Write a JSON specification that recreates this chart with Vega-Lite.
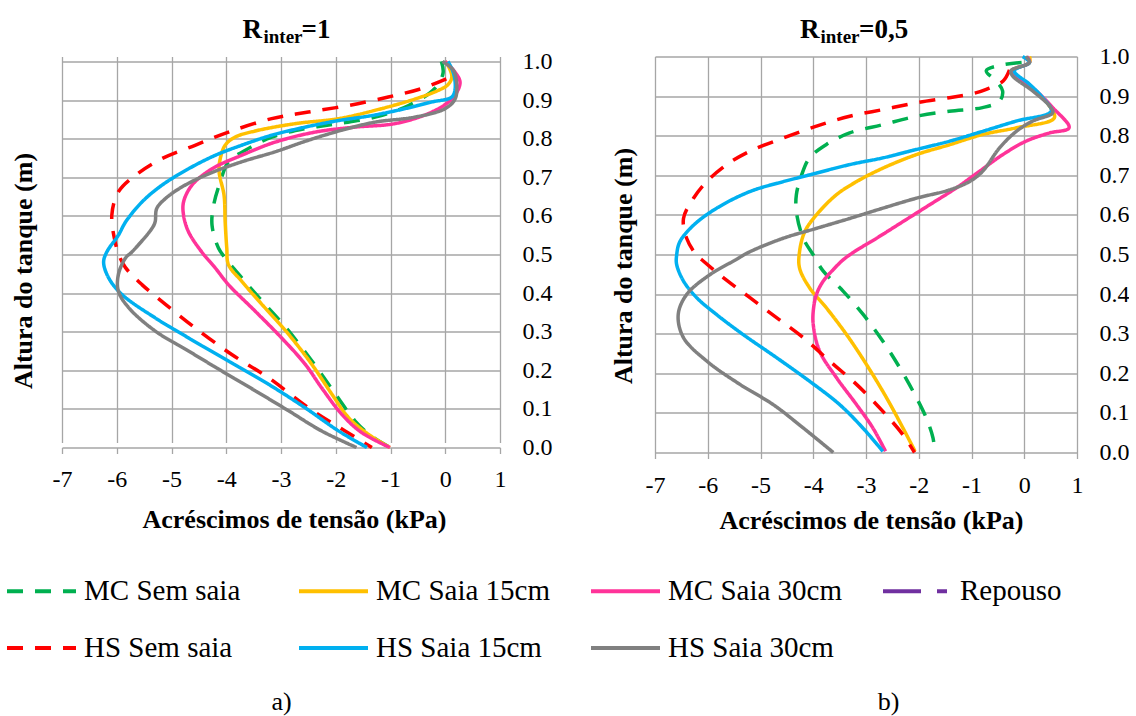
{
  "$schema": "https://vega.github.io/schema/vega-lite/v6.json",
  "background": "white",
  "padding": {"left": 5, "top": 15.5, "right": 0, "bottom": 0},
  "spacing": 58,
  "config": {
    "view": {"stroke": null},
    "font": "Liberation Serif",
    "axis": {"labelFont": "Liberation Serif", "titleFont": "Liberation Serif", "labelColor": "#000000", "titleColor": "#000000"}
  },
  "resolve": {"scale": {"color": "shared", "strokeDash": "shared"}, "legend": {"color": "shared", "strokeDash": "shared"}},
  "datasets": {
    "a": [
      {"s":"MC Sem saia","i":0,"x":-0.07,"h":1.0},{"s":"MC Sem saia","i":1,"x":-0.04,"h":0.97},{"s":"MC Sem saia","i":2,"x":-0.19,"h":0.93},{"s":"MC Sem saia","i":3,"x":-0.67,"h":0.886},{"s":"MC Sem saia","i":4,"x":-1.28,"h":0.856},{"s":"MC Sem saia","i":5,"x":-1.95,"h":0.839},{"s":"MC Sem saia","i":6,"x":-2.56,"h":0.826},{"s":"MC Sem saia","i":7,"x":-3.17,"h":0.804},{"s":"MC Sem saia","i":8,"x":-3.65,"h":0.77},{"s":"MC Sem saia","i":9,"x":-3.96,"h":0.74},{"s":"MC Sem saia","i":10,"x":-4.11,"h":0.688},{"s":"MC Sem saia","i":11,"x":-4.23,"h":0.628},{"s":"MC Sem saia","i":12,"x":-4.26,"h":0.576},{"s":"MC Sem saia","i":13,"x":-4.14,"h":0.516},{"s":"MC Sem saia","i":14,"x":-4.02,"h":0.491},{"s":"MC Sem saia","i":15,"x":-3.72,"h":0.44},{"s":"MC Sem saia","i":16,"x":-3.35,"h":0.38},{"s":"MC Sem saia","i":17,"x":-2.99,"h":0.324},{"s":"MC Sem saia","i":18,"x":-2.62,"h":0.259},{"s":"MC Sem saia","i":19,"x":-2.26,"h":0.19},{"s":"MC Sem saia","i":20,"x":-1.92,"h":0.121},{"s":"MC Sem saia","i":21,"x":-1.65,"h":0.069},{"s":"MC Sem saia","i":22,"x":-1.38,"h":0.033},{"s":"MC Sem saia","i":23,"x":-1.01,"h":0.0},
      {"s":"MC Saia 15cm","i":0,"x":0.0,"h":1.0},{"s":"MC Saia 15cm","i":1,"x":0.05,"h":0.99},{"s":"MC Saia 15cm","i":2,"x":0.12,"h":0.96},{"s":"MC Saia 15cm","i":3,"x":0.05,"h":0.94},{"s":"MC Saia 15cm","i":4,"x":-0.13,"h":0.925},{"s":"MC Saia 15cm","i":5,"x":-0.55,"h":0.903},{"s":"MC Saia 15cm","i":6,"x":-1.16,"h":0.878},{"s":"MC Saia 15cm","i":7,"x":-1.95,"h":0.852},{"s":"MC Saia 15cm","i":8,"x":-2.74,"h":0.839},{"s":"MC Saia 15cm","i":9,"x":-3.47,"h":0.82},{"s":"MC Saia 15cm","i":10,"x":-3.84,"h":0.804},{"s":"MC Saia 15cm","i":11,"x":-4.02,"h":0.783},{"s":"MC Saia 15cm","i":12,"x":-4.11,"h":0.748},{"s":"MC Saia 15cm","i":13,"x":-4.13,"h":0.714},{"s":"MC Saia 15cm","i":14,"x":-4.04,"h":0.653},{"s":"MC Saia 15cm","i":15,"x":-4.02,"h":0.584},{"s":"MC Saia 15cm","i":16,"x":-3.99,"h":0.516},{"s":"MC Saia 15cm","i":17,"x":-3.96,"h":0.474},{"s":"MC Saia 15cm","i":18,"x":-3.72,"h":0.431},{"s":"MC Saia 15cm","i":19,"x":-3.35,"h":0.371},{"s":"MC Saia 15cm","i":20,"x":-2.86,"h":0.293},{"s":"MC Saia 15cm","i":21,"x":-2.44,"h":0.216},{"s":"MC Saia 15cm","i":22,"x":-2.07,"h":0.138},{"s":"MC Saia 15cm","i":23,"x":-1.77,"h":0.078},{"s":"MC Saia 15cm","i":24,"x":-1.4,"h":0.034},{"s":"MC Saia 15cm","i":25,"x":-1.01,"h":0.0},
      {"s":"MC Saia 30cm","i":0,"x":0.0,"h":1.0},{"s":"MC Saia 30cm","i":1,"x":0.18,"h":0.972},{"s":"MC Saia 30cm","i":2,"x":0.27,"h":0.947},{"s":"MC Saia 30cm","i":3,"x":0.21,"h":0.92},{"s":"MC Saia 30cm","i":4,"x":0.06,"h":0.895},{"s":"MC Saia 30cm","i":5,"x":-0.31,"h":0.865},{"s":"MC Saia 30cm","i":6,"x":-0.92,"h":0.839},{"s":"MC Saia 30cm","i":7,"x":-1.65,"h":0.83},{"s":"MC Saia 30cm","i":8,"x":-2.38,"h":0.817},{"s":"MC Saia 30cm","i":9,"x":-3.11,"h":0.791},{"s":"MC Saia 30cm","i":10,"x":-3.72,"h":0.757},{"s":"MC Saia 30cm","i":11,"x":-4.26,"h":0.722},{"s":"MC Saia 30cm","i":12,"x":-4.63,"h":0.679},{"s":"MC Saia 30cm","i":13,"x":-4.78,"h":0.636},{"s":"MC Saia 30cm","i":14,"x":-4.78,"h":0.602},{"s":"MC Saia 30cm","i":15,"x":-4.69,"h":0.559},{"s":"MC Saia 30cm","i":16,"x":-4.45,"h":0.507},{"s":"MC Saia 30cm","i":17,"x":-4.2,"h":0.465},{"s":"MC Saia 30cm","i":18,"x":-3.96,"h":0.422},{"s":"MC Saia 30cm","i":19,"x":-3.47,"h":0.353},{"s":"MC Saia 30cm","i":20,"x":-2.99,"h":0.284},{"s":"MC Saia 30cm","i":21,"x":-2.56,"h":0.216},{"s":"MC Saia 30cm","i":22,"x":-2.26,"h":0.155},{"s":"MC Saia 30cm","i":23,"x":-1.89,"h":0.086},{"s":"MC Saia 30cm","i":24,"x":-1.53,"h":0.039},{"s":"MC Saia 30cm","i":25,"x":-1.01,"h":0.0},
      {"s":"HS Sem saia","i":0,"x":0.02,"h":0.955},{"s":"HS Sem saia","i":1,"x":-0.43,"h":0.93},{"s":"HS Sem saia","i":2,"x":-1.04,"h":0.908},{"s":"HS Sem saia","i":3,"x":-1.77,"h":0.886},{"s":"HS Sem saia","i":4,"x":-2.5,"h":0.869},{"s":"HS Sem saia","i":5,"x":-3.17,"h":0.852},{"s":"HS Sem saia","i":6,"x":-3.96,"h":0.817},{"s":"HS Sem saia","i":7,"x":-4.57,"h":0.783},{"s":"HS Sem saia","i":8,"x":-5.18,"h":0.748},{"s":"HS Sem saia","i":9,"x":-5.66,"h":0.705},{"s":"HS Sem saia","i":10,"x":-5.97,"h":0.662},{"s":"HS Sem saia","i":11,"x":-6.09,"h":0.602},{"s":"HS Sem saia","i":12,"x":-6.03,"h":0.533},{"s":"HS Sem saia","i":13,"x":-5.95,"h":0.495},{"s":"HS Sem saia","i":14,"x":-5.84,"h":0.466},{"s":"HS Sem saia","i":15,"x":-5.54,"h":0.422},{"s":"HS Sem saia","i":16,"x":-5.11,"h":0.371},{"s":"HS Sem saia","i":17,"x":-4.57,"h":0.31},{"s":"HS Sem saia","i":18,"x":-3.9,"h":0.241},{"s":"HS Sem saia","i":19,"x":-3.23,"h":0.181},{"s":"HS Sem saia","i":20,"x":-2.5,"h":0.103},{"s":"HS Sem saia","i":21,"x":-1.83,"h":0.043},{"s":"HS Sem saia","i":22,"x":-1.34,"h":0.0},
      {"s":"HS Saia 15cm","i":0,"x":0.05,"h":1.0},{"s":"HS Saia 15cm","i":1,"x":0.15,"h":0.97},{"s":"HS Saia 15cm","i":2,"x":0.18,"h":0.929},{"s":"HS Saia 15cm","i":3,"x":0.12,"h":0.908},{"s":"HS Saia 15cm","i":4,"x":-0.25,"h":0.895},{"s":"HS Saia 15cm","i":5,"x":-0.73,"h":0.878},{"s":"HS Saia 15cm","i":6,"x":-1.34,"h":0.86},{"s":"HS Saia 15cm","i":7,"x":-1.95,"h":0.847},{"s":"HS Saia 15cm","i":8,"x":-2.56,"h":0.83},{"s":"HS Saia 15cm","i":9,"x":-3.17,"h":0.809},{"s":"HS Saia 15cm","i":10,"x":-3.72,"h":0.783},{"s":"HS Saia 15cm","i":11,"x":-4.2,"h":0.757},{"s":"HS Saia 15cm","i":12,"x":-4.69,"h":0.722},{"s":"HS Saia 15cm","i":13,"x":-5.18,"h":0.679},{"s":"HS Saia 15cm","i":14,"x":-5.54,"h":0.636},{"s":"HS Saia 15cm","i":15,"x":-5.84,"h":0.584},{"s":"HS Saia 15cm","i":16,"x":-5.97,"h":0.55},{"s":"HS Saia 15cm","i":17,"x":-6.18,"h":0.507},{"s":"HS Saia 15cm","i":18,"x":-6.24,"h":0.48},{"s":"HS Saia 15cm","i":19,"x":-6.15,"h":0.44},{"s":"HS Saia 15cm","i":20,"x":-5.91,"h":0.397},{"s":"HS Saia 15cm","i":21,"x":-5.3,"h":0.336},{"s":"HS Saia 15cm","i":22,"x":-4.69,"h":0.284},{"s":"HS Saia 15cm","i":23,"x":-3.96,"h":0.224},{"s":"HS Saia 15cm","i":24,"x":-3.23,"h":0.164},{"s":"HS Saia 15cm","i":25,"x":-2.56,"h":0.103},{"s":"HS Saia 15cm","i":26,"x":-1.95,"h":0.043},{"s":"HS Saia 15cm","i":27,"x":-1.43,"h":0.0},
      {"s":"HS Saia 30cm","i":0,"x":-0.05,"h":1.0},{"s":"HS Saia 30cm","i":1,"x":0.15,"h":0.977},{"s":"HS Saia 30cm","i":2,"x":0.21,"h":0.938},{"s":"HS Saia 30cm","i":3,"x":0.18,"h":0.903},{"s":"HS Saia 30cm","i":4,"x":0.0,"h":0.878},{"s":"HS Saia 30cm","i":5,"x":-0.55,"h":0.856},{"s":"HS Saia 30cm","i":6,"x":-1.28,"h":0.843},{"s":"HS Saia 30cm","i":7,"x":-1.89,"h":0.822},{"s":"HS Saia 30cm","i":8,"x":-2.5,"h":0.796},{"s":"HS Saia 30cm","i":9,"x":-3.11,"h":0.766},{"s":"HS Saia 30cm","i":10,"x":-3.72,"h":0.74},{"s":"HS Saia 30cm","i":11,"x":-4.32,"h":0.709},{"s":"HS Saia 30cm","i":12,"x":-4.81,"h":0.675},{"s":"HS Saia 30cm","i":13,"x":-5.11,"h":0.645},{"s":"HS Saia 30cm","i":14,"x":-5.27,"h":0.619},{"s":"HS Saia 30cm","i":15,"x":-5.3,"h":0.584},{"s":"HS Saia 30cm","i":16,"x":-5.36,"h":0.567},{"s":"HS Saia 30cm","i":17,"x":-5.72,"h":0.507},{"s":"HS Saia 30cm","i":18,"x":-5.84,"h":0.491},{"s":"HS Saia 30cm","i":19,"x":-5.97,"h":0.448},{"s":"HS Saia 30cm","i":20,"x":-5.97,"h":0.405},{"s":"HS Saia 30cm","i":21,"x":-5.78,"h":0.362},{"s":"HS Saia 30cm","i":22,"x":-5.3,"h":0.302},{"s":"HS Saia 30cm","i":23,"x":-4.69,"h":0.25},{"s":"HS Saia 30cm","i":24,"x":-4.08,"h":0.198},{"s":"HS Saia 30cm","i":25,"x":-3.47,"h":0.147},{"s":"HS Saia 30cm","i":26,"x":-2.86,"h":0.095},{"s":"HS Saia 30cm","i":27,"x":-2.26,"h":0.043},{"s":"HS Saia 30cm","i":28,"x":-1.62,"h":0.0}
    ],
    "b": [
      {"s":"MC Sem saia","i":0,"x":-0.05,"h":0.985},{"s":"MC Sem saia","i":1,"x":-0.45,"h":0.978},{"s":"MC Sem saia","i":2,"x":-0.72,"h":0.964},{"s":"MC Sem saia","i":3,"x":-0.53,"h":0.938},{"s":"MC Sem saia","i":4,"x":-0.41,"h":0.913},{"s":"MC Sem saia","i":5,"x":-0.47,"h":0.887},{"s":"MC Sem saia","i":6,"x":-0.79,"h":0.871},{"s":"MC Sem saia","i":7,"x":-1.42,"h":0.862},{"s":"MC Sem saia","i":8,"x":-2.05,"h":0.849},{"s":"MC Sem saia","i":9,"x":-2.68,"h":0.828},{"s":"MC Sem saia","i":10,"x":-3.31,"h":0.807},{"s":"MC Sem saia","i":11,"x":-3.75,"h":0.778},{"s":"MC Sem saia","i":12,"x":-4.07,"h":0.744},{"s":"MC Sem saia","i":13,"x":-4.22,"h":0.701},{"s":"MC Sem saia","i":14,"x":-4.32,"h":0.651},{"s":"MC Sem saia","i":15,"x":-4.32,"h":0.608},{"s":"MC Sem saia","i":16,"x":-4.19,"h":0.541},{"s":"MC Sem saia","i":17,"x":-4.0,"h":0.499},{"s":"MC Sem saia","i":18,"x":-3.81,"h":0.458},{"s":"MC Sem saia","i":19,"x":-3.43,"h":0.407},{"s":"MC Sem saia","i":20,"x":-3.05,"h":0.348},{"s":"MC Sem saia","i":21,"x":-2.68,"h":0.281},{"s":"MC Sem saia","i":22,"x":-2.36,"h":0.214},{"s":"MC Sem saia","i":23,"x":-2.11,"h":0.155},{"s":"MC Sem saia","i":24,"x":-1.86,"h":0.088},{"s":"MC Sem saia","i":25,"x":-1.73,"h":0.037},{"s":"MC Sem saia","i":26,"x":-1.7,"h":0.003},
      {"s":"MC Saia 15cm","i":0,"x":0.1,"h":1.0},{"s":"MC Saia 15cm","i":1,"x":0.1,"h":0.985},{"s":"MC Saia 15cm","i":2,"x":-0.25,"h":0.962},{"s":"MC Saia 15cm","i":3,"x":0.1,"h":0.925},{"s":"MC Saia 15cm","i":4,"x":0.45,"h":0.88},{"s":"MC Saia 15cm","i":5,"x":0.57,"h":0.845},{"s":"MC Saia 15cm","i":6,"x":-0.15,"h":0.82},{"s":"MC Saia 15cm","i":7,"x":-0.79,"h":0.803},{"s":"MC Saia 15cm","i":8,"x":-1.42,"h":0.777},{"s":"MC Saia 15cm","i":9,"x":-2.05,"h":0.752},{"s":"MC Saia 15cm","i":10,"x":-2.68,"h":0.718},{"s":"MC Saia 15cm","i":11,"x":-3.18,"h":0.684},{"s":"MC Saia 15cm","i":12,"x":-3.56,"h":0.651},{"s":"MC Saia 15cm","i":13,"x":-3.94,"h":0.6},{"s":"MC Saia 15cm","i":14,"x":-4.16,"h":0.558},{"s":"MC Saia 15cm","i":15,"x":-4.26,"h":0.507},{"s":"MC Saia 15cm","i":16,"x":-4.26,"h":0.466},{"s":"MC Saia 15cm","i":17,"x":-4.07,"h":0.416},{"s":"MC Saia 15cm","i":18,"x":-3.75,"h":0.365},{"s":"MC Saia 15cm","i":19,"x":-3.37,"h":0.298},{"s":"MC Saia 15cm","i":20,"x":-2.99,"h":0.222},{"s":"MC Saia 15cm","i":21,"x":-2.61,"h":0.138},{"s":"MC Saia 15cm","i":22,"x":-2.3,"h":0.062},{"s":"MC Saia 15cm","i":23,"x":-2.07,"h":0.003},
      {"s":"MC Saia 30cm","i":0,"x":0.05,"h":1.0},{"s":"MC Saia 30cm","i":1,"x":0.1,"h":0.985},{"s":"MC Saia 30cm","i":2,"x":-0.25,"h":0.962},{"s":"MC Saia 30cm","i":3,"x":0.16,"h":0.921},{"s":"MC Saia 30cm","i":4,"x":0.54,"h":0.871},{"s":"MC Saia 30cm","i":5,"x":0.85,"h":0.82},{"s":"MC Saia 30cm","i":6,"x":0.48,"h":0.807},{"s":"MC Saia 30cm","i":7,"x":0.03,"h":0.786},{"s":"MC Saia 30cm","i":8,"x":-0.41,"h":0.752},{"s":"MC Saia 30cm","i":9,"x":-0.85,"h":0.71},{"s":"MC Saia 30cm","i":10,"x":-1.29,"h":0.668},{"s":"MC Saia 30cm","i":11,"x":-1.8,"h":0.625},{"s":"MC Saia 30cm","i":12,"x":-2.3,"h":0.583},{"s":"MC Saia 30cm","i":13,"x":-2.8,"h":0.541},{"s":"MC Saia 30cm","i":14,"x":-3.21,"h":0.508},{"s":"MC Saia 30cm","i":15,"x":-3.43,"h":0.487},{"s":"MC Saia 30cm","i":16,"x":-3.62,"h":0.462},{"s":"MC Saia 30cm","i":17,"x":-3.81,"h":0.433},{"s":"MC Saia 30cm","i":18,"x":-3.94,"h":0.399},{"s":"MC Saia 30cm","i":19,"x":-4.0,"h":0.357},{"s":"MC Saia 30cm","i":20,"x":-4.0,"h":0.323},{"s":"MC Saia 30cm","i":21,"x":-3.88,"h":0.256},{"s":"MC Saia 30cm","i":22,"x":-3.56,"h":0.189},{"s":"MC Saia 30cm","i":23,"x":-3.18,"h":0.121},{"s":"MC Saia 30cm","i":24,"x":-2.87,"h":0.062},{"s":"MC Saia 30cm","i":25,"x":-2.63,"h":0.003},
      {"s":"HS Sem saia","i":0,"x":-0.28,"h":0.966},{"s":"HS Sem saia","i":1,"x":-0.4,"h":0.938},{"s":"HS Sem saia","i":2,"x":-0.72,"h":0.917},{"s":"HS Sem saia","i":3,"x":-0.98,"h":0.906},{"s":"HS Sem saia","i":4,"x":-1.42,"h":0.896},{"s":"HS Sem saia","i":5,"x":-2.05,"h":0.883},{"s":"HS Sem saia","i":6,"x":-2.68,"h":0.866},{"s":"HS Sem saia","i":7,"x":-3.31,"h":0.849},{"s":"HS Sem saia","i":8,"x":-3.94,"h":0.824},{"s":"HS Sem saia","i":9,"x":-4.57,"h":0.794},{"s":"HS Sem saia","i":10,"x":-5.2,"h":0.761},{"s":"HS Sem saia","i":11,"x":-5.64,"h":0.727},{"s":"HS Sem saia","i":12,"x":-6.02,"h":0.684},{"s":"HS Sem saia","i":13,"x":-6.27,"h":0.642},{"s":"HS Sem saia","i":14,"x":-6.46,"h":0.591},{"s":"HS Sem saia","i":15,"x":-6.4,"h":0.541},{"s":"HS Sem saia","i":16,"x":-6.21,"h":0.498},{"s":"HS Sem saia","i":17,"x":-6.08,"h":0.483},{"s":"HS Sem saia","i":18,"x":-5.7,"h":0.441},{"s":"HS Sem saia","i":19,"x":-5.2,"h":0.391},{"s":"HS Sem saia","i":20,"x":-4.69,"h":0.34},{"s":"HS Sem saia","i":21,"x":-4.19,"h":0.29},{"s":"HS Sem saia","i":22,"x":-3.69,"h":0.231},{"s":"HS Sem saia","i":23,"x":-3.18,"h":0.172},{"s":"HS Sem saia","i":24,"x":-2.68,"h":0.104},{"s":"HS Sem saia","i":25,"x":-2.3,"h":0.045},{"s":"HS Sem saia","i":26,"x":-2.08,"h":0.0},
      {"s":"HS Saia 15cm","i":0,"x":-0.03,"h":1.0},{"s":"HS Saia 15cm","i":1,"x":0.1,"h":0.985},{"s":"HS Saia 15cm","i":2,"x":-0.19,"h":0.964},{"s":"HS Saia 15cm","i":3,"x":0.1,"h":0.93},{"s":"HS Saia 15cm","i":4,"x":0.35,"h":0.896},{"s":"HS Saia 15cm","i":5,"x":0.51,"h":0.862},{"s":"HS Saia 15cm","i":6,"x":-0.15,"h":0.837},{"s":"HS Saia 15cm","i":7,"x":-0.79,"h":0.811},{"s":"HS Saia 15cm","i":8,"x":-1.42,"h":0.786},{"s":"HS Saia 15cm","i":9,"x":-2.05,"h":0.765},{"s":"HS Saia 15cm","i":10,"x":-2.68,"h":0.744},{"s":"HS Saia 15cm","i":11,"x":-3.31,"h":0.727},{"s":"HS Saia 15cm","i":12,"x":-4.07,"h":0.701},{"s":"HS Saia 15cm","i":13,"x":-4.57,"h":0.684},{"s":"HS Saia 15cm","i":14,"x":-5.2,"h":0.659},{"s":"HS Saia 15cm","i":15,"x":-5.83,"h":0.617},{"s":"HS Saia 15cm","i":16,"x":-6.27,"h":0.574},{"s":"HS Saia 15cm","i":17,"x":-6.53,"h":0.532},{"s":"HS Saia 15cm","i":18,"x":-6.59,"h":0.498},{"s":"HS Saia 15cm","i":19,"x":-6.59,"h":0.475},{"s":"HS Saia 15cm","i":20,"x":-6.46,"h":0.433},{"s":"HS Saia 15cm","i":21,"x":-6.21,"h":0.391},{"s":"HS Saia 15cm","i":22,"x":-5.83,"h":0.348},{"s":"HS Saia 15cm","i":23,"x":-5.33,"h":0.298},{"s":"HS Saia 15cm","i":24,"x":-4.69,"h":0.239},{"s":"HS Saia 15cm","i":25,"x":-4.07,"h":0.18},{"s":"HS Saia 15cm","i":26,"x":-3.5,"h":0.121},{"s":"HS Saia 15cm","i":27,"x":-3.06,"h":0.062},{"s":"HS Saia 15cm","i":28,"x":-2.68,"h":0.003},
      {"s":"HS Saia 30cm","i":0,"x":0.03,"h":1.0},{"s":"HS Saia 30cm","i":1,"x":0.1,"h":0.985},{"s":"HS Saia 30cm","i":2,"x":-0.25,"h":0.964},{"s":"HS Saia 30cm","i":3,"x":-0.22,"h":0.951},{"s":"HS Saia 30cm","i":4,"x":0.16,"h":0.913},{"s":"HS Saia 30cm","i":5,"x":0.48,"h":0.875},{"s":"HS Saia 30cm","i":6,"x":0.54,"h":0.858},{"s":"HS Saia 30cm","i":7,"x":0.16,"h":0.837},{"s":"HS Saia 30cm","i":8,"x":-0.15,"h":0.811},{"s":"HS Saia 30cm","i":9,"x":-0.47,"h":0.769},{"s":"HS Saia 30cm","i":10,"x":-0.79,"h":0.71},{"s":"HS Saia 30cm","i":11,"x":-1.04,"h":0.684},{"s":"HS Saia 30cm","i":12,"x":-1.42,"h":0.663},{"s":"HS Saia 30cm","i":13,"x":-2.05,"h":0.642},{"s":"HS Saia 30cm","i":14,"x":-2.68,"h":0.617},{"s":"HS Saia 30cm","i":15,"x":-3.31,"h":0.591},{"s":"HS Saia 30cm","i":16,"x":-3.94,"h":0.566},{"s":"HS Saia 30cm","i":17,"x":-4.57,"h":0.541},{"s":"HS Saia 30cm","i":18,"x":-5.2,"h":0.507},{"s":"HS Saia 30cm","i":19,"x":-5.52,"h":0.483},{"s":"HS Saia 30cm","i":20,"x":-5.96,"h":0.449},{"s":"HS Saia 30cm","i":21,"x":-6.4,"h":0.399},{"s":"HS Saia 30cm","i":22,"x":-6.56,"h":0.348},{"s":"HS Saia 30cm","i":23,"x":-6.46,"h":0.29},{"s":"HS Saia 30cm","i":24,"x":-6.02,"h":0.231},{"s":"HS Saia 30cm","i":25,"x":-5.39,"h":0.172},{"s":"HS Saia 30cm","i":26,"x":-4.76,"h":0.121},{"s":"HS Saia 30cm","i":27,"x":-4.19,"h":0.062},{"s":"HS Saia 30cm","i":28,"x":-3.62,"h":0.0}
    ]
  },
  "hconcat": [
    {
      "width": 438,
      "height": 391,
      "data": {"name": "a"},
      "layer": [
        {
          "mark": {"type": "line", "interpolate": "catmull-rom", "strokeWidth": 3.5},
          "encoding": {
            "x": {"field": "x", "type": "quantitative", "scale": {"domain": [-7, 1], "nice": false, "zero": false},
              "axis": {"orient": "bottom", "values": [-7, -6, -5, -4, -3, -2, -1, 0, 1], "labelExpr": "'' + datum.value", "grid": true, "gridColor": "#a6a6a6", "gridWidth": 1.3, "domain": false, "ticks": true, "tickColor": "#a6a6a6", "tickWidth": 1.3, "tickSize": 6, "labelFontSize": 24, "labelBaseline": "alphabetic", "labelPadding": 33, "labelFlush": false, "labelOverlap": false, "title": "Acréscimos de tensão (kPa)", "titleFontSize": 26, "titleFontWeight": "bold", "titleX": 232, "titleY": 80, "titleBaseline": "alphabetic", "titleAlign": "center"}},
            "y": {"field": "h", "type": "quantitative", "scale": {"domain": [0, 1], "nice": false, "range": [391, 5]},
              "axis": {"orient": "right", "values": [0, 0.1, 0.2, 0.3, 0.4, 0.5, 0.6, 0.7, 0.8, 0.9, 1.0], "labelExpr": "format(datum.value, '.1f')", "grid": true, "gridColor": "#a6a6a6", "gridWidth": 1.3, "domain": false, "ticks": false, "tickSize": 0, "labelPadding": 22, "labelFontSize": 24, "labelBaseline": "middle", "labelFlush": false, "labelOverlap": false, "title": "Altura do tanque (m)", "titleFontSize": 26, "titleFontWeight": "bold", "titleAngle": 270, "titleX": -477, "titleY": 214, "titleAlign": "center", "titleBaseline": "middle"}},
            "color": {"field": "s", "type": "nominal",
              "scale": {"domain": ["MC Sem saia", "MC Saia 15cm", "MC Saia 30cm", "Repouso", "HS Sem saia", "HS Saia 15cm", "HS Saia 30cm"], "range": ["#00B050", "#FFC000", "#FF3399", "#7030A0", "#FF0000", "#00B0F0", "#808080"]},
              "legend": {"title": null, "orient": "none", "legendX": -57, "legendY": 498, "direction": "horizontal", "columns": 4, "gridAlign": "all", "columnPadding": 33, "rowPadding": 5, "symbolType": "stroke", "symbolSize": 4761, "symbolStrokeWidth": 4, "labelFont": "Liberation Serif", "labelColor": "#000000", "labelFontSize": 29, "labelOffset": 6, "labelLimit": 500}},
            "strokeDash": {"field": "s", "type": "nominal",
              "scale": {"domain": ["MC Sem saia", "MC Saia 15cm", "MC Saia 30cm", "Repouso", "HS Sem saia", "HS Saia 15cm", "HS Saia 30cm"], "range": [[16, 12], [1, 0], [1, 0], [38, 16, 10, 16], [16, 12], [1, 0], [1, 0]]},
              "legend": {"title": null, "orient": "none", "legendX": -57, "legendY": 498, "direction": "horizontal", "columns": 4, "gridAlign": "all", "columnPadding": 33, "rowPadding": 5, "symbolType": "stroke", "symbolSize": 4761, "symbolStrokeWidth": 4, "labelFont": "Liberation Serif", "labelColor": "#000000", "labelFontSize": 29, "labelOffset": 6, "labelLimit": 500}},
            "order": {"field": "i", "type": "quantitative"}
          }
        },
        {
          "transform": [{"filter": "false"}],
          "mark": {"type": "line"},
          "encoding": {
            "x": {"field": "x", "type": "quantitative", "axis": {"orient": "top", "grid": false, "labels": false, "ticks": false, "domain": false, "title": "inter", "titleFontSize": 19, "titleFontWeight": "bold", "titleX": 201, "titleY": -14.2, "titleAlign": "left", "titleBaseline": "alphabetic"}},
            "y": {"field": "h", "type": "quantitative", "axis": {"orient": "left", "grid": false, "labels": false, "ticks": false, "domain": false, "title": "R", "titleFontSize": 27, "titleFontWeight": "bold", "titleAngle": 0, "titleX": 180, "titleY": -18.7, "titleAlign": "left", "titleBaseline": "alphabetic"}}
          }
        },
        {
          "transform": [{"filter": "false"}],
          "mark": {"type": "line"},
          "encoding": {
            "x": {"field": "x", "type": "quantitative", "axis": {"orient": "top", "grid": false, "labels": false, "ticks": false, "domain": false, "title": "=1", "titleFontSize": 27, "titleFontWeight": "bold", "titleX": 239, "titleY": -18.7, "titleAlign": "left", "titleBaseline": "alphabetic"}},
            "y": {"field": "h", "type": "quantitative", "axis": {"orient": "left", "grid": false, "labels": false, "ticks": false, "domain": false, "title": "a)", "titleFontSize": 26, "titleFontWeight": "normal", "titleAngle": 0, "titleX": 219, "titleY": 653.3, "titleAlign": "center", "titleBaseline": "alphabetic"}}
          }
        }
      ],
      "resolve": {"axis": {"x": "independent", "y": "independent"}}
    },
    {
      "width": 422,
      "height": 396,
      "data": {"name": "b"},
      "layer": [
        {
          "mark": {"type": "line", "interpolate": "catmull-rom", "strokeWidth": 3.5},
          "encoding": {
            "x": {"field": "x", "type": "quantitative", "scale": {"domain": [-7, 1], "nice": false, "zero": false},
              "axis": {"orient": "bottom", "values": [-7, -6, -5, -4, -3, -2, -1, 0, 1], "labelExpr": "'' + datum.value", "grid": true, "gridColor": "#a6a6a6", "gridWidth": 1.3, "domain": false, "ticks": true, "tickColor": "#a6a6a6", "tickWidth": 1.3, "tickSize": 6, "labelFontSize": 24, "labelBaseline": "alphabetic", "labelPadding": 33.5, "labelFlush": false, "labelOverlap": false, "title": "Acréscimos de tensão (kPa)", "titleFontSize": 26, "titleFontWeight": "bold", "titleX": 216, "titleY": 76, "titleBaseline": "alphabetic", "titleAlign": "center"}},
            "y": {"field": "h", "type": "quantitative", "scale": {"domain": [0, 1], "nice": false},
              "axis": {"orient": "right", "values": [0, 0.1, 0.2, 0.3, 0.4, 0.5, 0.6, 0.7, 0.8, 0.9, 1.0], "labelExpr": "format(datum.value, '.1f')", "grid": true, "gridColor": "#a6a6a6", "gridWidth": 1.3, "domain": false, "ticks": false, "tickSize": 0, "labelPadding": 22, "labelFontSize": 24, "labelBaseline": "middle", "labelFlush": false, "labelOverlap": false, "title": "Altura do tanque (m)", "titleFontSize": 26, "titleFontWeight": "bold", "titleAngle": 270, "titleX": -454, "titleY": 209, "titleAlign": "center", "titleBaseline": "middle"}},
            "color": {"field": "s", "type": "nominal",
              "scale": {"domain": ["MC Sem saia", "MC Saia 15cm", "MC Saia 30cm", "Repouso", "HS Sem saia", "HS Saia 15cm", "HS Saia 30cm"], "range": ["#00B050", "#FFC000", "#FF3399", "#7030A0", "#FF0000", "#00B0F0", "#808080"]},
              "legend": {"title": null, "orient": "none", "legendX": -57, "legendY": 498, "direction": "horizontal", "columns": 4, "gridAlign": "all", "columnPadding": 33, "rowPadding": 5, "symbolType": "stroke", "symbolSize": 4761, "symbolStrokeWidth": 4, "labelFont": "Liberation Serif", "labelColor": "#000000", "labelFontSize": 29, "labelOffset": 6, "labelLimit": 500}},
            "strokeDash": {"field": "s", "type": "nominal",
              "scale": {"domain": ["MC Sem saia", "MC Saia 15cm", "MC Saia 30cm", "Repouso", "HS Sem saia", "HS Saia 15cm", "HS Saia 30cm"], "range": [[16, 12], [1, 0], [1, 0], [38, 16, 10, 16], [16, 12], [1, 0], [1, 0]]},
              "legend": {"title": null, "orient": "none", "legendX": -57, "legendY": 498, "direction": "horizontal", "columns": 4, "gridAlign": "all", "columnPadding": 33, "rowPadding": 5, "symbolType": "stroke", "symbolSize": 4761, "symbolStrokeWidth": 4, "labelFont": "Liberation Serif", "labelColor": "#000000", "labelFontSize": 29, "labelOffset": 6, "labelLimit": 500}},
            "order": {"field": "i", "type": "quantitative"}
          }
        },
        {
          "transform": [{"filter": "false"}],
          "mark": {"type": "line"},
          "encoding": {
            "x": {"field": "x", "type": "quantitative", "axis": {"orient": "top", "grid": false, "labels": false, "ticks": false, "domain": false, "title": "inter", "titleFontSize": 19, "titleFontWeight": "bold", "titleX": 165, "titleY": -14.2, "titleAlign": "left", "titleBaseline": "alphabetic"}},
            "y": {"field": "h", "type": "quantitative", "axis": {"orient": "left", "grid": false, "labels": false, "ticks": false, "domain": false, "title": "R", "titleFontSize": 27, "titleFontWeight": "bold", "titleAngle": 0, "titleX": 144.5, "titleY": -18.7, "titleAlign": "left", "titleBaseline": "alphabetic"}}
          }
        },
        {
          "transform": [{"filter": "false"}],
          "mark": {"type": "line"},
          "encoding": {
            "x": {"field": "x", "type": "quantitative", "axis": {"orient": "top", "grid": false, "labels": false, "ticks": false, "domain": false, "title": "=0,5", "titleFontSize": 27, "titleFontWeight": "bold", "titleX": 203.5, "titleY": -18.7, "titleAlign": "left", "titleBaseline": "alphabetic"}},
            "y": {"field": "h", "type": "quantitative", "axis": {"orient": "left", "grid": false, "labels": false, "ticks": false, "domain": false, "title": "b)", "titleFontSize": 26, "titleFontWeight": "normal", "titleAngle": 0, "titleX": 233, "titleY": 653.3, "titleAlign": "center", "titleBaseline": "alphabetic"}}
          }
        }
      ],
      "resolve": {"axis": {"x": "independent", "y": "independent"}}
    }
  ]
}
